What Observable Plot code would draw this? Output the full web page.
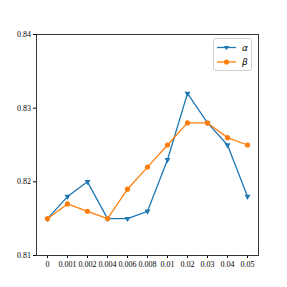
<!DOCTYPE html>
<html><head><meta charset="utf-8">
<script src="https://cdn.jsdelivr.net/npm/d3@7"></script>
<script src="https://cdn.jsdelivr.net/npm/@observablehq/plot@0.6"></script>
<style>
body{margin:0;background:#fff;}
#wrap{position:relative;width:287px;height:287px;}
#wrap svg text{fill:#000;}
#legend{position:absolute;left:213px;top:38px;width:39px;height:33px;border:1px solid #d0d0d0;border-radius:3px;background:rgba(255,255,255,0.8);box-sizing:border-box;}
</style>
</head><body>
<div id="wrap"><div id="legend"></div></div>
<script>
const categories = ["0","0.001","0.002","0.004","0.006","0.008","0.01","0.02","0.03","0.04","0.05"];
const alpha = [0.815,0.818,0.820,0.815,0.815,0.816,0.823,0.832,0.828,0.825,0.818];
const beta  = [0.815,0.817,0.816,0.815,0.819,0.822,0.825,0.828,0.828,0.826,0.825];
const yTicks = [0.81,0.82,0.83,0.84];
const seriesNames = ["α","β"];
const colors = ["#1f77b4","#ff7f0e"];

const triangleDown = {
  draw(ctx, size) {
    const h = Math.sqrt(size / (Math.sqrt(3)/4));
    const s = h/2;
    const y = s * Math.sqrt(3)/3;
    ctx.moveTo(-s, -y);
    ctx.lineTo(s, -y);
    ctx.lineTo(0, 2*y);
    ctx.closePath();
  }
};

const dataA = categories.map((c,i)=>({x:c,y:alpha[i]}));
const dataB = categories.map((c,i)=>({x:c,y:beta[i]}));

const chart = Plot.plot({
  width: 287, height: 287,
  marginLeft: 36, marginRight: 29, marginTop: 34, marginBottom: 32,
  style: {fontFamily: "'Liberation Serif', serif", fontSize: "8px", color: "#000", background: "#fff"},
  x: {type: "point", domain: categories, padding: 0.5, label: null, tickSize: 3, tickPadding: 2.5},
  y: {domain: [0.81, 0.84], ticks: yTicks, tickFormat: d3.format(".2f"), label: null, tickSize: 3, tickPadding: 2.5},
  marks: [
    Plot.frame({stroke: "#222", strokeWidth: 0.9}),
    Plot.line(dataA, {x: "x", y: "y", stroke: colors[0], strokeWidth: 1.3}),
    Plot.dot(dataA, {x: "x", y: "y", fill: colors[0], symbol: triangleDown, r: 2.2}),
    Plot.line(dataB, {x: "x", y: "y", stroke: colors[1], strokeWidth: 1.3}),
    Plot.dot(dataB, {x: "x", y: "y", fill: colors[1], r: 2.6})
  ]
});
document.getElementById("wrap").prepend(chart);
chart.style.position = "absolute"; chart.style.left = "0"; chart.style.top = "0";

const leg = document.getElementById("legend");
leg.innerHTML = `<svg width="37" height="31" style="display:block">
  <line x1="3" x2="22" y1="8.5" y2="8.5" stroke="${colors[0]}" stroke-width="1.3"/>
  <path d="M9.8,7 L15.2,7 L12.5,11.3 Z" fill="${colors[0]}"/>
  <text x="28" y="11.5" font-family="DejaVu Sans" font-style="italic" font-size="9">${seriesNames[0]}</text>
  <line x1="3" x2="22" y1="23" y2="23" stroke="${colors[1]}" stroke-width="1.3"/>
  <circle cx="12.5" cy="23" r="2.6" fill="${colors[1]}"/>
  <text x="28" y="26" font-family="DejaVu Sans" font-style="italic" font-size="9">${seriesNames[1]}</text>
</svg>`;
</script>
</body></html>
